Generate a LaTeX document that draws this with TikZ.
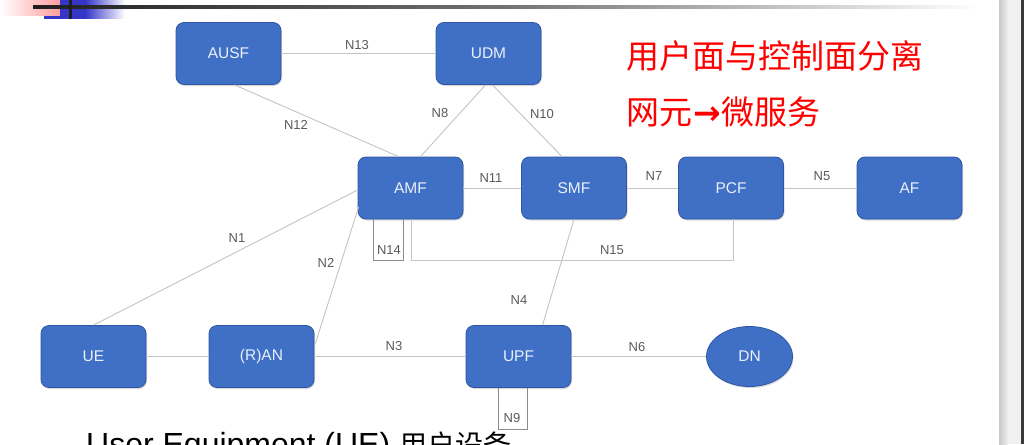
\documentclass[tikz,border=0pt]{standalone}
\usepackage{fontspec}
\setmainfont{Liberation Sans}
\newfontfamily\cjk{Noto Sans CJK SC}
\newfontfamily\dejavu{DejaVu Sans}
\usetikzlibrary{shapes.geometric,shadows,calc}
\definecolor{boxblue}{HTML}{4070C6}
\definecolor{boxedge}{HTML}{2F56A6}
\definecolor{linegray}{HTML}{C4C4C4}
\definecolor{loopgray}{HTML}{8C8C8C}
\definecolor{lblgray}{HTML}{5A5A5A}
\definecolor{boxtext}{HTML}{EAF0FA}
\definecolor{slideblue}{HTML}{3535C8}
\definecolor{slidepink}{HTML}{FF9C9C}
\definecolor{slideline}{HTML}{1E1E1E}
\definecolor{edgegray}{HTML}{C8C8C8}
\definecolor{edgelight}{HTML}{F0F0F0}
\definecolor{edgedark}{HTML}{3A3A3A}
\begin{document}
\begin{tikzpicture}[x=1pt,y=-1pt,
  nf/.style={draw=boxedge, line width=0.8pt, fill=boxblue, rounded corners=8pt,
    minimum width=105pt, minimum height=62pt, inner sep=0pt, text=boxtext,
    font=\fontsize{15.5}{16}\selectfont,
    drop shadow={opacity=0.3, shadow xshift=1pt, shadow yshift=-1.5pt}},
  dnf/.style={ellipse, draw=boxedge, line width=0.8pt, fill=boxblue,
    minimum width=86pt, minimum height=60pt, inner sep=0pt, text=boxtext,
    font=\fontsize{15.5}{16}\selectfont,
    drop shadow={opacity=0.3, shadow xshift=1pt, shadow yshift=-1.5pt}},
  link/.style={draw=linegray, line width=0.9pt},
  loopl/.style={draw=loopgray, line width=0.8pt},
  lbl/.style={text=lblgray, font=\fontsize{13}{13}\selectfont, inner sep=0pt},
  redtxt/.style={text=red, inner sep=0pt, anchor=west, font=\cjk\fontsize{33}{33}\selectfont},
]
\useasboundingbox (0,0) rectangle (1024,444);
\clip (0,0) rectangle (1024,444);
\fill[white] (0,0) rectangle (1024,444);

% slide decorations
\shade[left color=white, right color=slidepink] (0,0) rectangle (60,16);
\fill[slideblue] (44,16) rectangle (60,19);
\fill[slideblue] (60,0) rectangle (85,19);
\shade[left color=slideblue, right color=white] (85,0) rectangle (125,19);
\shade[left color=slideline, right color=white, middle color=black!55] (33,6) rectangle (980,9);
\fill[slideline] (68.5,0) rectangle (71.5,19);
\shade[left color=edgegray, right color=edgelight] (999,0) rectangle (1008,444);
\fill[edgelight] (1008,0) rectangle (1021,444);
\fill[edgedark] (1021,0) rectangle (1024,444);

% network functions
\node[nf] (ausf) at (228.5,53.5) {AUSF};
\node[nf] (udm) at (488.5,53.5) {UDM};
\node[nf] (amf) at (410.5,188) {AMF};
\node[nf] (smf) at (574,188) {SMF};
\node[nf] (pcf) at (731,188) {PCF};
\node[nf] (af) at (909.5,188) {AF};
\node[nf] (ue) at (93.5,356.5) {UE};
\node[nf] (ran) at (261.5,356.5) {(R)AN};
\node[nf] (upf) at (518.5,356.5) {UPF};
\node[dnf] (dn) at (749.5,356.5) {DN};

% connectors
\draw[link] (ausf) -- (udm);
\draw[link] (amf) -- (smf);
\draw[link] (smf) -- (pcf);
\draw[link] (pcf) -- (af);
\draw[link] (ue) -- (ran);
\draw[link] (ran) -- (upf);
\draw[link] (upf) -- (dn);
\draw[link] ($(ausf.south)+(6,0)$) -- ($(amf.north)+(-12,0)$);
\draw[link] ($(udm.south)+(-3,0)$) -- ($(amf.north)+(10,0)$);
\draw[link] ($(udm.south)+(4,0)$) -- ($(smf.north)+(-12,0)$);
\draw[link] (ue.north) -- ($(amf.west)+(0,2)$);
\draw[link] ($(ran.east)+(1,-13)$) -- ($(amf.west)+(1,19)$);
\draw[link] (smf.south) -- ($(upf.north)+(24,0)$);
\draw[loopl] ($(amf.south)+(-37,0)$) -- ++(0,41) -- ++(30,0) -- ++(0,-41);
\draw[link] ($(amf.south)+(1,0)$) -- ++(0,41) -| ($(pcf.south)+(2,0)$);
\draw[loopl] ($(upf.south)+(-20.5,0)$) -- ++(0,41) -- ++(29,0) -- ++(0,-41);

% labels
\node[lbl] (l13) at (357,45) {N13};
\node[lbl] (l12) at (296,125) {N12};
\node[lbl] (l8) at (440,113) {N8};
\node[lbl] (l10) at (542,114) {N10};
\node[lbl] (l11) at (491,178) {N11};
\node[lbl] (l7) at (654,176) {N7};
\node[lbl] (l5) at (822,176) {N5};
\node[lbl] (l1) at (237,238) {N1};
\node[lbl] (l2) at (326,263) {N2};
\node[lbl] (l14) at (389,250) {N14};
\node[lbl] (l15) at (612,250) {N15};
\node[lbl] (l4) at (519,300) {N4};
\node[lbl] (l3) at (394,346) {N3};
\node[lbl] (l6) at (637,347) {N6};
\node[lbl] (l9) at (512,418) {N9};

% red annotation
\node[redtxt] (t1) at (626,56) {用户面与控制面分离};
\node[redtxt] (t2) at (626,112) {网元{\dejavu\bfseries\hspace{1pt}→\hspace{1pt}}微服务};

% cut-off caption
\node[anchor=base west, inner sep=0pt, font=\fontsize{32}{32}\selectfont] (cap) at (86,455) {User Equipment (UE) {\cjk\fontsize{28}{28}\selectfont 用户设备}};
\end{tikzpicture}
\end{document}
